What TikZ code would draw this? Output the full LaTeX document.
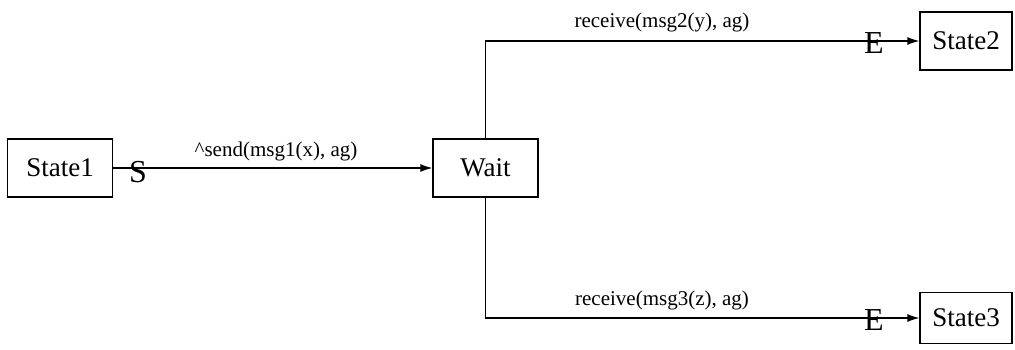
\documentclass[tikz,border=0pt]{standalone}
\usepackage{fontspec}
\setmainfont{Liberation Serif}
\usetikzlibrary{arrows.meta,positioning}

\begin{document}
\begin{tikzpicture}[
                x=1pt, y=-1pt,
                state/.style={rectangle, draw, line width=1.3pt, inner sep=0pt,
                        minimum width=105pt, minimum height=58pt,
                        font=\fontsize{27}{30}\selectfont},
                edge/.style={draw, line width=1.3pt, -{Latex[length=12pt, width=8pt]}},
                tag/.style={inner sep=0pt, font=\fontsize{32}{36}\selectfont},
                msg/.style={inner sep=0pt, anchor=base, font=\fontsize{21}{24}\selectfont},
            ]
            \useasboundingbox (0,0) rectangle (1015,350);

            % ── States ────────────────────────────────────────────
            \node[state] (state1) at (60,168) {State1};
            \node[state] (wait) at (485.5,168) {Wait};
            \node[state, minimum width=92pt] (state2) at (966,41) {State2};
            \node[state, minimum width=92pt, minimum height=51pt] (state3) at (966,318) {State3};

            % ── Send: State1 -> Wait ──────────────────────────────
            \draw[edge] (state1) -- (wait);
            \node[tag] (start) at (138,172) {S};
            \node[msg] (sendlbl) at (276,157) {\textasciicircum send(msg1(x), ag)};

            % ── Receive: Wait -> State2 / State3 ──────────────────
            \draw[edge] (wait.north) |- (state2.west);
            \draw[edge] (wait.south) |- (state3.west);
            \node[tag] (end2) at (874,43) {E};
            \node[tag] (end3) at (874,320) {E};
            \node[msg] (recvlbl2) at (662,28) {receive(msg2(y), ag)};
            \node[msg] (recvlbl3) at (662,305) {receive(msg3(z), ag)};
        \end{tikzpicture}
\end{document}
